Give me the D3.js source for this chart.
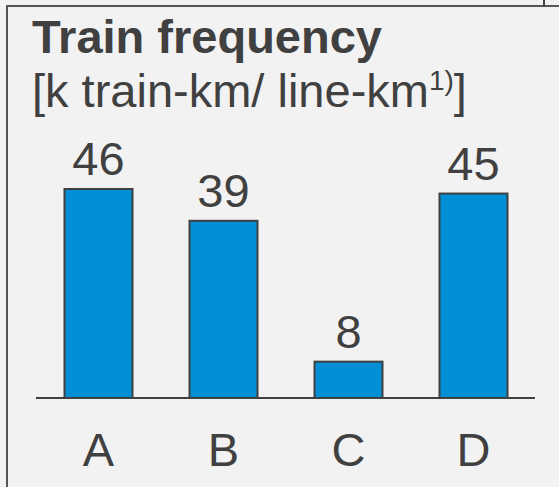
<!DOCTYPE html>
<html>
<head>
<meta charset="utf-8">
<script src="https://cdn.jsdelivr.net/npm/d3@7"></script>
<style>
  html, body { margin: 0; padding: 0; background: #f2f2f2; }
  svg { display: block; font-family: "Liberation Sans", Arial, sans-serif; }
</style>
</head>
<body>
<svg id="chart" width="559" height="487"></svg>
<script>
// chart data
const categories = ['A', 'B', 'C', 'D'];
const frequency = [46, 39, 8, 45];
const title = 'Train frequency';
const unitText = '[k train-km/ line-km';

const W = 559, H = 487;
const baseY = 398;

const svg = d3.select('#chart');

// frame
svg.append('rect').attr('width', W).attr('height', H).attr('fill', '#f2f2f2');
svg.append('path')
    .attr('d', `M7,${H} V6 H${W}`)
    .attr('fill', 'none')
    .attr('stroke', '#555')
    .attr('stroke-width', 2);
svg.append('line')
    .attr('x1', 544).attr('x2', 544).attr('y1', 0).attr('y2', 6)
    .attr('stroke', '#404040').attr('stroke-width', 2);

// titles
svg.append('text')
    .attr('x', 32).attr('y', 53)
    .attr('font-size', 47).attr('font-weight', 'bold')
    .attr('fill', '#404040')
    .text(title);

let sub = svg.append('text')
    .attr('x', 32).attr('y', 107)
    .attr('font-size', 47)
    .attr('fill', '#404040');
sub.append('tspan').text(unitText);
sub.append('tspan').attr('font-size', 28).attr('dy', -17).text('1)');
sub.append('tspan').attr('dy', 17).text(']');

// scales
const x = d3.scaleBand()
    .domain(categories)
    .range([36, 536])
    .paddingInner(0.456)
    .paddingOuter(0.228);

const y = d3.scaleLinear()
    .domain([0, 46])
    .range([baseY, 189]);

// bars
svg.selectAll('rect.bar')
    .data(frequency)
    .join('rect')
    .attr('class', 'bar')
    .attr('x', (d, i) => x(categories[i]))
    .attr('y', d => y(d))
    .attr('width', x.bandwidth())
    .attr('height', d => baseY - y(d))
    .attr('fill', '#008fd5')
    .attr('stroke', '#404040')
    .attr('stroke-width', 2);

// value labels
svg.selectAll('text.val')
    .data(frequency)
    .join('text')
    .attr('class', 'val')
    .attr('x', (d, i) => x(categories[i]) + x.bandwidth() / 2)
    .attr('y', d => y(d) - 14)
    .attr('text-anchor', 'middle')
    .attr('font-size', 47)
    .attr('fill', '#404040')
    .text(d => d);

// baseline
svg.append('line')
    .attr('x1', 36).attr('x2', 535)
    .attr('y1', baseY).attr('y2', baseY)
    .attr('stroke', '#404040')
    .attr('stroke-width', 2);

// category axis
const axis = svg.append('g')
    .attr('transform', `translate(0,${baseY})`)
    .call(d3.axisBottom(x).tickSize(0).tickPadding(0));
axis.select('.domain').remove();
axis.selectAll('text')
    .attr('dy', 0)
    .attr('y', 68)
    .attr('font-size', 47)
    .attr('font-family', '"Liberation Sans", Arial, sans-serif')
    .attr('fill', '#404040');
</script>
</body>
</html>
